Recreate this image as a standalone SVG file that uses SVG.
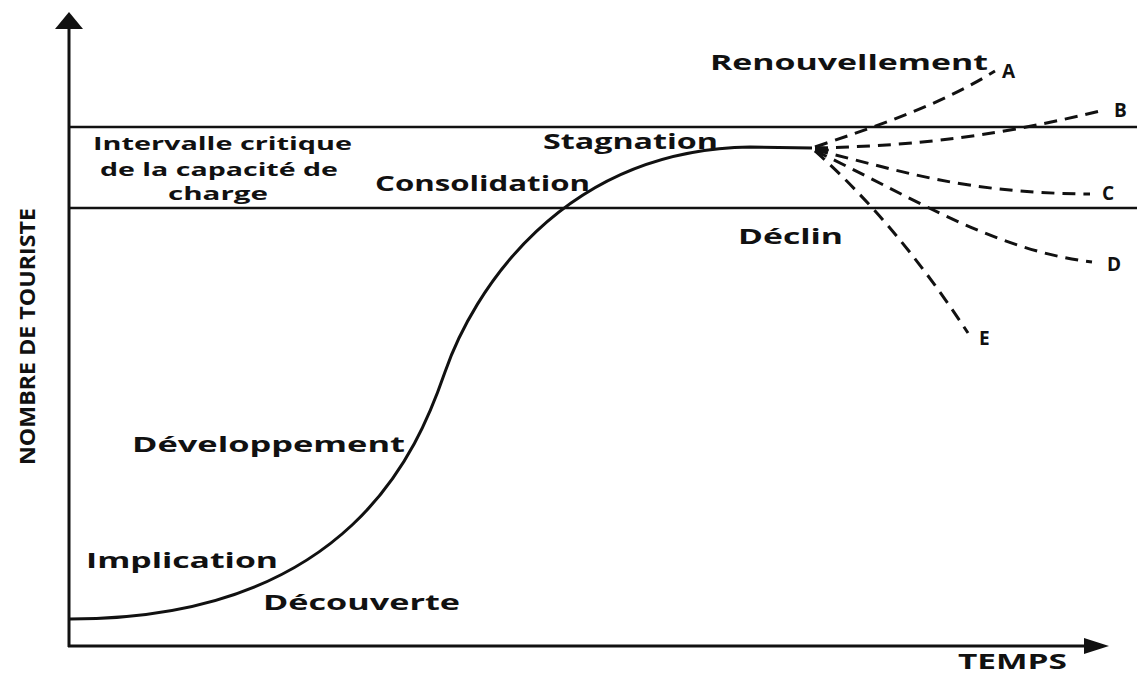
<svg xmlns="http://www.w3.org/2000/svg" width="1137" height="675" viewBox="0 0 1137 675">
<style>
.lbl{font-family:"Open Sans","Liberation Sans",sans-serif;font-weight:bold;fill:#111;font-size:22px}
.band{font-size:18.5px}
.let{font-size:19px}
.axis{stroke:#111;stroke-width:3;fill:none}
.hl{stroke:#111;stroke-width:2.5;fill:none}
.curve{stroke:#111;stroke-width:3;fill:none}
.dash{stroke:#111;stroke-width:3;fill:none;stroke-dasharray:13 8}
</style>
<rect width="1137" height="675" fill="#fff"/>
<g id="axes">
<line class="axis" x1="69" y1="24" x2="69" y2="647"/>
<polygon points="69,12 55,29 83,29" fill="#111"/>
<line class="axis" x1="68" y1="646" x2="1092" y2="646"/>
<polygon points="1109,646 1084,638 1084,654" fill="#111"/>
</g>
<g id="capacity-band">
<line class="hl" x1="69" y1="127" x2="1137" y2="127"/>
<line class="hl" x1="69" y1="208" x2="1137" y2="208"/>
</g>
<g id="connectors">
<path id="main-curve" class="curve" d="M70,619 C350,619 418,450 445,372 C472,294 560,150 750,147 L812,148"/>
<ellipse cx="822" cy="150" rx="7" ry="3.5" fill="#111"/>
<path id="branch-A" class="dash" d="M815,147 C880,125 940,105 995,71"/>
<path id="branch-B" class="dash" d="M815,148 C900,146 980,140 1100,111"/>
<path id="branch-C" class="dash" d="M815,150 C900,170 960,193 1090,194"/>
<path id="branch-D" class="dash" d="M815,151 C900,190 990,250 1092,262"/>
<path id="branch-E" class="dash" d="M815,151 C870,200 920,260 968,333"/>
</g>
<g id="labels">
<text class="lbl band" x="93" y="150" textLength="259" lengthAdjust="spacingAndGlyphs">Intervalle critique</text>
<text class="lbl band" x="100" y="176" textLength="238" lengthAdjust="spacingAndGlyphs">de la capacité de</text>
<text class="lbl band" x="168" y="200" textLength="100" lengthAdjust="spacingAndGlyphs">charge</text>
<text class="lbl" x="543" y="149" textLength="175" lengthAdjust="spacingAndGlyphs">Stagnation</text>
<text class="lbl" x="375" y="191" textLength="215" lengthAdjust="spacingAndGlyphs">Consolidation</text>
<text class="lbl" x="738" y="244" textLength="105" lengthAdjust="spacingAndGlyphs">Déclin</text>
<text class="lbl" x="710" y="70" textLength="278" lengthAdjust="spacingAndGlyphs">Renouvellement</text>
<text class="lbl let" x="1002" y="78">A</text>
<text class="lbl let" x="1114" y="117">B</text>
<text class="lbl let" x="1102" y="200">C</text>
<text class="lbl let" x="1107" y="271">D</text>
<text class="lbl let" x="979" y="345">E</text>
<text class="lbl" x="132" y="452" textLength="273" lengthAdjust="spacingAndGlyphs">Développement</text>
<text class="lbl" x="86" y="568" textLength="192" lengthAdjust="spacingAndGlyphs">Implication</text>
<text class="lbl" x="263" y="610" textLength="197" lengthAdjust="spacingAndGlyphs">Découverte</text>
<text class="lbl" x="958" y="669" font-size="25" textLength="109" lengthAdjust="spacingAndGlyphs">TEMPS</text>
<text class="lbl" transform="translate(35,465) rotate(-90)" x="0" y="0" font-size="22" textLength="257" lengthAdjust="spacingAndGlyphs">NOMBRE DE TOURISTE</text>
</g>
</svg>
